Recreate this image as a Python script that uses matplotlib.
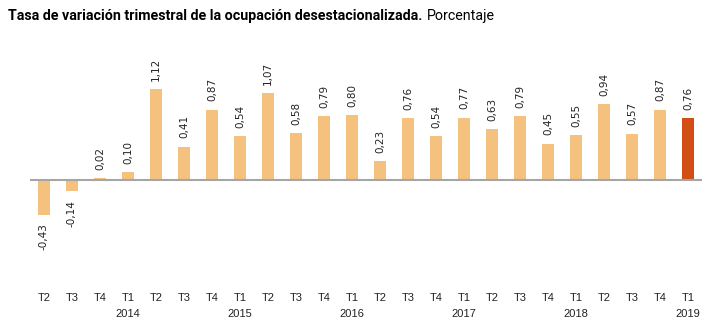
import matplotlib
matplotlib.use("Agg")
import matplotlib.pyplot as plt

##Data
quarters = ["T2", "T3", "T4", "T1", "T2", "T3", "T4", "T1", "T2", "T3", "T4", "T1",
            "T2", "T3", "T4", "T1", "T2", "T3", "T4", "T1", "T2", "T3", "T4", "T1"]
years = ["", "", "", "2014", "", "", "", "2015", "", "", "", "2016",
         "", "", "", "2017", "", "", "", "2018", "", "", "", "2019"]
values = [-0.43, -0.14, 0.02, 0.10, 1.12, 0.41, 0.87, 0.54, 1.07, 0.58, 0.79, 0.80,
          0.23, 0.76, 0.54, 0.77, 0.63, 0.79, 0.45, 0.55, 0.94, 0.57, 0.87, 0.76]

light = "#F4C17E"
dark = "#D24E14"
colors = [light] * (len(values) - 1) + [dark]

title_font = "Roboto"
label_font = "DejaVu Sans"

W, H = 713, 331
fig = plt.figure(figsize=(W / 100, H / 100), dpi=100)
# axes in pixel coordinates: x 30..702, y 60..285 (from top)
ax = fig.add_axes([30 / W, 1 - 285 / H, 672 / W, 225 / H])

x = list(range(len(values)))
ax.bar(x, values, width=0.4, color=colors, zorder=2)
ax.axhline(0, color="#A6A6A6", linewidth=1.5, zorder=3)

ax.set_xlim(-0.5, len(values) - 0.5)
ax.set_ylim(-105 / 81, 120 / 81)

for xi, v in zip(x, values):
    lab = ("%.2f" % v).replace(".", ",")
    if v >= 0:
        ax.annotate(lab, (xi, v), xytext=(0, 6), textcoords="offset points",
                    rotation=90, ha="center", va="bottom", fontsize=7.5,
                    color="#222222", family=label_font)
    else:
        ax.annotate(lab, (xi, v), xytext=(0, -6), textcoords="offset points",
                    rotation=90, ha="center", va="top", fontsize=7.5,
                    color="#222222", family=label_font)

ax.set_xticks(x)
ax.set_xticklabels([q + "\n" + y for q, y in zip(quarters, years)],
                   fontsize=8, family="Liberation Sans", linespacing=1.75, color="#222222")
ax.tick_params(axis="x", length=0, pad=6)
ax.set_yticks([])
for s in ax.spines.values():
    s.set_visible(False)

#Title: bold part then regular part
t1 = fig.text(8 / W, 1 - 16 / H, "Tasa de variación trimestral de la ocupación desestacionalizada.",
              fontsize=10.3, fontweight="bold", family=title_font, va="center", ha="left")
fig.canvas.draw()
bb = t1.get_window_extent()
fig.text((bb.x1 + 4) / W, 1 - 16 / H, "Porcentaje", fontsize=10.3, family=title_font,
         va="center", ha="left")

fig.savefig("out.png", dpi=100)
